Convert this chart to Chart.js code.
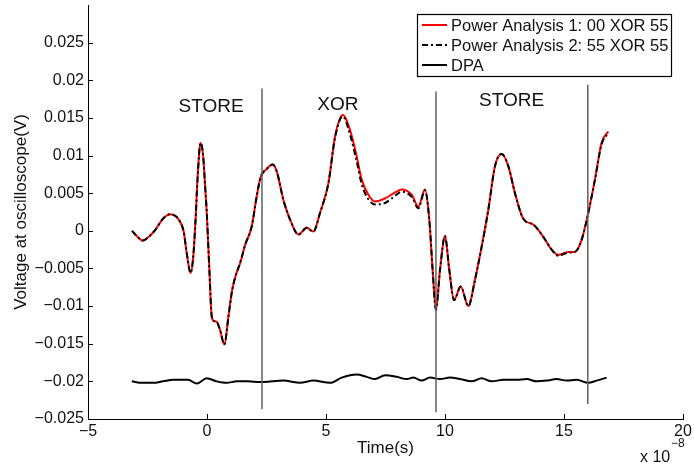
<!DOCTYPE html>
<html>
<head>
<meta charset="utf-8">
<script src="https://cdn.jsdelivr.net/npm/chart.js@4.4.1/dist/chart.umd.min.js"></script>
<style>
  html, body { margin: 0; padding: 0; background: #fff; }
  #wrap { width: 694px; height: 469px; }
</style>
</head>
<body>
<div id="wrap"><canvas id="trace" width="694" height="469"></canvas></div>
<script>
// time axis in units of 1e-8 s
const time = [-3.15, -2.95, -2.70, -2.45, -2.18, -1.85, -1.55, -1.30, -1.13, -0.98, -0.85, -0.69, -0.58, -0.48, -0.40, -0.27, -0.16, -0.08, -0.01,
  0.10, 0.20, 0.30, 0.41, 0.55, 0.73, 0.90, 1.05, 1.20, 1.39, 1.60, 1.88, 2.09, 2.25, 2.50, 2.76, 2.93, 3.21, 3.49, 3.84, 4.19, 4.47, 4.75,
  5.10, 5.38, 5.70, 6.01, 6.29, 6.50, 6.78, 7.06, 7.48, 7.85, 8.18, 8.60, 8.88, 9.16, 9.34, 9.48, 9.62, 9.79, 10.00, 10.18, 10.38, 10.66,
  10.98, 11.26, 11.54, 11.82, 12.10, 12.38, 12.66, 12.94, 13.29, 13.72, 14.13, 14.48, 14.76, 15.18, 15.46, 15.74, 16.02, 16.30, 16.58, 16.86];

// 00 XOR 55
const pa1 = [0.0000, -0.0007, -0.0013, -0.0008, 0.0001, 0.0016, 0.0022, 0.0019, 0.0012, -0.0001, -0.0030, -0.0056, -0.0035, 0.0015, 0.0068, 0.0117, 0.0099, 0.0060, 0.0024,
  -0.0052, -0.0114, -0.0120, -0.0121, -0.0132, -0.0151, -0.0114, -0.0080, -0.0060, -0.0043, -0.0019, 0.0006, 0.0046, 0.0071, 0.0082, 0.0088, 0.0079, 0.0041, 0.0015, -0.0005, 0.0004, -0.0001, 0.0024,
  0.0063, 0.0125, 0.0154, 0.0134, 0.0099, 0.0068, 0.0048, 0.0039, 0.0043, 0.0050, 0.0055, 0.0048, 0.0032, 0.0055, 0.0015, -0.0052, -0.0105, -0.0052, -0.0007, -0.0052, -0.0092, -0.0074,
  -0.0100, -0.0065, -0.0021, 0.0028, 0.0086, 0.0102, 0.0086, 0.0050, 0.0016, 0.0008, -0.0008, -0.0025, -0.0032, -0.0028, -0.0028, -0.0012, 0.0024, 0.0068, 0.0117, 0.0132];

// 55 XOR 55
const pa2 = [0.0000, -0.0007, -0.0013, -0.0008, 0.0001, 0.0016, 0.0022, 0.0019, 0.0012, -0.0001, -0.0030, -0.0056, -0.0035, 0.0015, 0.0068, 0.0117, 0.0099, 0.0060, 0.0024,
  -0.0052, -0.0114, -0.0120, -0.0121, -0.0132, -0.0151, -0.0114, -0.0080, -0.0060, -0.0043, -0.0019, 0.0006, 0.0046, 0.0071, 0.0082, 0.0088, 0.0079, 0.0041, 0.0015, -0.0005, 0.0004, -0.0001, 0.0024,
  0.0063, 0.0124, 0.0152, 0.0128, 0.0092, 0.0062, 0.0042, 0.0035, 0.0037, 0.0045, 0.0052, 0.0045, 0.0030, 0.0054, 0.0015, -0.0052, -0.0105, -0.0052, -0.0007, -0.0052, -0.0092, -0.0074,
  -0.0100, -0.0065, -0.0021, 0.0028, 0.0086, 0.0102, 0.0086, 0.0050, 0.0016, 0.0008, -0.0008, -0.0025, -0.0033, -0.0029, -0.0028, -0.0012, 0.0024, 0.0068, 0.0115, 0.0130];

// DPA difference (offset trace)
const dpaTime = [-3.16, -2.73, -2.26, -1.85, -1.42, -0.79, -0.43, -0.01, 0.41, 0.83, 1.25, 1.72, 2.23, 2.73, 3.21, 3.91, 4.47, 5.17, 5.66, 6.29, 6.71,
  7.06, 7.48, 7.97, 8.39, 8.67, 9.02, 9.37, 9.79, 10.21, 10.63, 11.12, 11.54, 11.96, 12.45, 13.01, 13.43, 13.85, 14.27, 14.69, 15.11, 15.53, 16.02, 16.37, 16.79];
const dpa = [-0.0200, -0.0202, -0.0202, -0.0200, -0.0198, -0.0198, -0.0203, -0.0196, -0.0200, -0.0202, -0.0200, -0.0200, -0.0201, -0.0200, -0.0199, -0.0202, -0.0199, -0.0202, -0.0195, -0.0191, -0.0194,
  -0.0197, -0.0192, -0.0194, -0.0197, -0.0195, -0.0199, -0.0195, -0.0197, -0.0195, -0.0197, -0.0200, -0.0196, -0.0200, -0.0198, -0.0198, -0.0197, -0.0200, -0.0199, -0.0197, -0.0199, -0.0198, -0.0202, -0.0199, -0.0195];

// instruction boundaries and section names
const boundaryTime = [2.31, 9.62, 16.0];
const boundaryTop = [0.0189, 0.0185, 0.0194];
const boundaryBottom = [-0.0237, -0.0241, -0.0230];
const sectionNames = ['STORE', 'XOR', 'STORE'];
const sectionTime = [0.17, 5.5, 12.8];
const sectionLevel = [0.0165, 0.0168, 0.0173];

const xTicks = [-5, 0, 5, 10, 15, 20];
const yTicks = [-0.025, -0.02, -0.015, -0.01, -0.005, 0, 0.005, 0.01, 0.015, 0.02, 0.025];

const FONT = '"Liberation Sans", Arial, Helvetica, sans-serif';
const INK = '#111';

const pts = (xs, ys) => xs.map((x, i) => ({ x, y: ys[i] }));
const fmt = v => String(+v.toFixed(4)).replace('-', '\u2212');

const datasets = [
  { label: 'Power Analysis 1: 00 XOR 55', data: pts(time, pa1), borderColor: '#ff0000', borderWidth: 2, order: 2 },
  { label: 'Power Analysis 2: 55 XOR 55', data: pts(time, pa2), borderColor: '#000', borderWidth: 2, borderDash: [6, 3, 2, 3], order: 1 },
  { label: 'DPA', data: pts(dpaTime, dpa), borderColor: '#000', borderWidth: 2, order: 3 }
].map(d => Object.assign(d, { showLine: true, pointRadius: 0, cubicInterpolationMode: 'monotone', fill: false }));

boundaryTime.forEach((t, i) => {
  datasets.push({
    label: '', data: [{ x: t, y: boundaryBottom[i] }, { x: t, y: boundaryTop[i] }],
    showLine: true, pointRadius: 0, borderColor: '#606060', borderWidth: 1.5, order: 0
  });
});

// ticks pointing inward, section labels, legend and axis titles
const decor = {
  id: 'decor',
  afterDatasetsDraw(chart) {
    const { ctx, chartArea: a, scales: { x, y } } = chart;
    ctx.save();
    ctx.strokeStyle = '#000';
    ctx.lineWidth = 1;
    ctx.beginPath();
    yTicks.forEach(v => {
      const py = Math.round(y.getPixelForValue(v)) + 0.5;
      ctx.moveTo(a.left, py); ctx.lineTo(a.left + 5, py);
    });
    xTicks.forEach(v => {
      const px = Math.round(x.getPixelForValue(v)) + 0.5;
      ctx.moveTo(px, a.bottom); ctx.lineTo(px, a.bottom - 5);
    });
    ctx.stroke();

    ctx.fillStyle = INK;
    ctx.font = '19px ' + FONT;
    ctx.textAlign = 'center';
    ctx.textBaseline = 'middle';
    sectionNames.forEach((s, i) => {
      ctx.fillText(s, x.getPixelForValue(sectionTime[i]), y.getPixelForValue(sectionLevel[i]));
    });
    ctx.restore();
  },
  afterDraw(chart) {
    const { ctx, chartArea: a } = chart;
    ctx.save();
    // legend
    const bx = 417.5, by = 14.5, bw = 254, bh = 62;
    ctx.fillStyle = '#fff';
    ctx.fillRect(bx, by, bw, bh);
    ctx.strokeStyle = '#000';
    ctx.lineWidth = 1.2;
    ctx.strokeRect(bx, by, bw, bh);
    ctx.font = '16.5px ' + FONT;
    ctx.textAlign = 'left';
    ctx.textBaseline = 'middle';
    for (let i = 0; i < 3; i++) {
      const ds = chart.data.datasets[i];
      const ly = 25 + i * 20;
      ctx.beginPath();
      ctx.setLineDash(ds.borderDash || []);
      ctx.strokeStyle = ds.borderColor;
      ctx.lineWidth = 2;
      ctx.moveTo(422, ly); ctx.lineTo(447, ly);
      ctx.stroke();
      ctx.setLineDash([]);
      ctx.fillStyle = INK;
      ctx.fillText(ds.label, 451, ly + 1);
    }

    // axis titles
    ctx.fillStyle = INK;
    ctx.font = '17px ' + FONT;
    ctx.textAlign = 'center';
    ctx.fillText('Time(s)', (a.left + a.right) / 2, 448);
    ctx.save();
    ctx.translate(21, (a.top + a.bottom) / 2);
    ctx.rotate(-Math.PI / 2);
    ctx.fillText('Voltage at oscilloscope(V)', 0, 0);
    ctx.restore();

    // exponent of the time axis
    ctx.font = '16px ' + FONT;
    ctx.textAlign = 'left';
    ctx.fillText('x 10', 640, 458);
    ctx.font = '12px ' + FONT;
    ctx.fillText('\u22128', 671, 444);
    ctx.restore();
  }
};

new Chart(document.getElementById('trace'), {
  type: 'scatter',
  data: { datasets },
  options: {
    responsive: false,
    animation: false,
    devicePixelRatio: 1,
    layout: { padding: { top: 5, right: 11, left: 0, bottom: 0 } },
    plugins: { legend: { display: false }, tooltip: { enabled: false } },
    scales: {
      x: {
        type: 'linear', min: -5, max: 20,
        grid: { display: false, drawTicks: false },
        border: { display: true, color: '#000', width: 1 },
        ticks: { color: INK, padding: 3, font: { family: FONT, size: 16 }, maxRotation: 0, callback: v => fmt(v) },
        afterBuildTicks: s => { s.ticks = xTicks.map(v => ({ value: v })); },
        afterFit: s => { s.height = 50; s.paddingLeft = 0; s.paddingRight = 0; }
      },
      y: {
        type: 'linear', min: -0.025, max: 0.03,
        grid: { display: false, drawTicks: false },
        border: { display: true, color: '#000', width: 1 },
        ticks: { color: INK, padding: 4, font: { family: FONT, size: 16 }, callback: v => fmt(v) },
        afterBuildTicks: s => { s.ticks = yTicks.map(v => ({ value: v })); },
        afterFit: s => { s.width = 88; s.paddingTop = 0; s.paddingBottom = 0; }
      }
    }
  },
  plugins: [decor]
});
</script>
</body>
</html>
